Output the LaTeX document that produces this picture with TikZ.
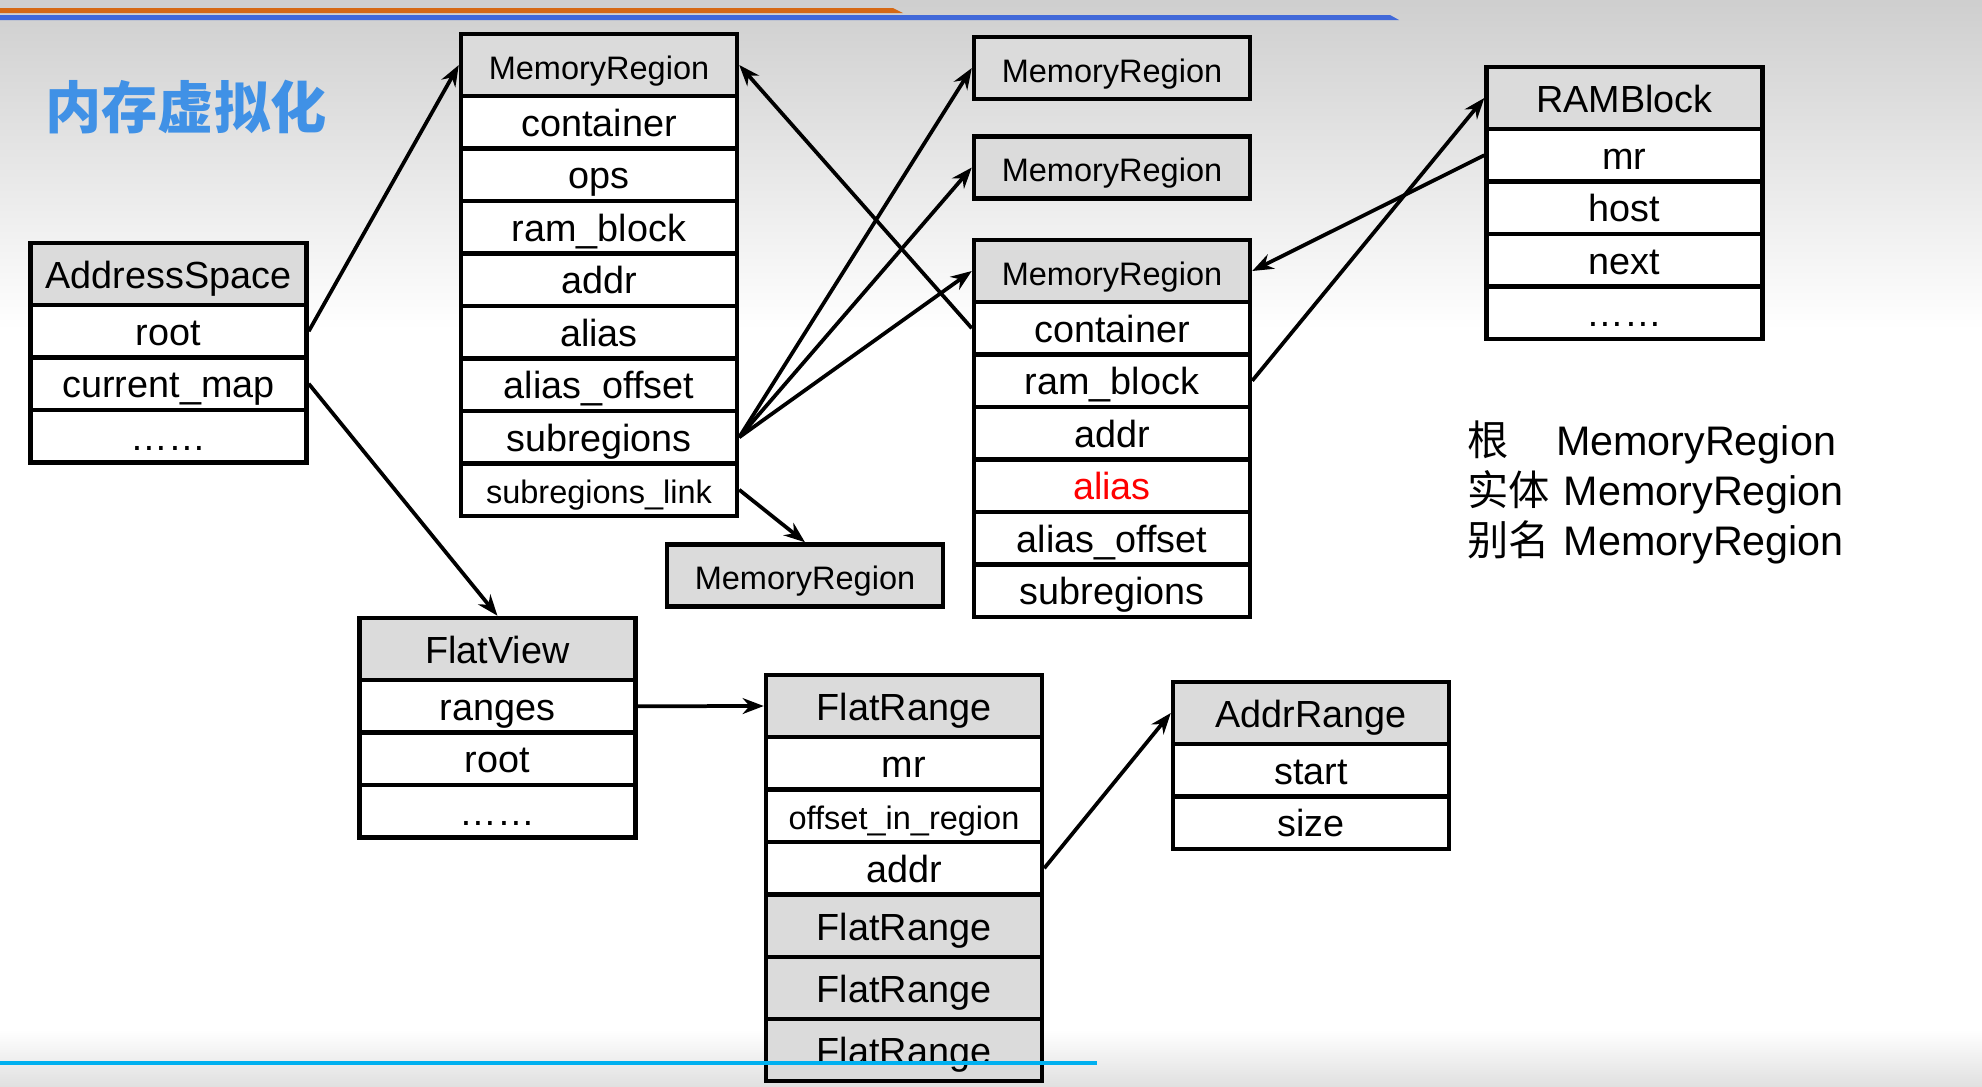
\documentclass[tikz,border=0pt]{standalone}
\usepackage{fontspec}
\setmainfont{Liberation Sans}
\newfontfamily\cjk{Noto Sans CJK SC}
\usetikzlibrary{arrows.meta}
\definecolor{titleblue}{RGB}{64,145,230}
\definecolor{barorange}{RGB}{214,105,20}
\definecolor{barblue}{RGB}{65,105,217}
\definecolor{linecyan}{RGB}{0,176,240}

\begin{document}
\begin{tikzpicture}[x=0.02cm, y=-0.02cm,
  every node/.style={font=\fontsize{21.5}{25}\selectfont, inner sep=0pt},
  hdr/.style={draw, line width=0.09cm, fill=black!14, minimum width=5.52cm, minimum height=1.24cm, text height=19pt, text depth=3pt},
  fld/.style={draw, line width=0.09cm, fill=white, minimum width=5.52cm, minimum height=1.05cm, text height=19pt, text depth=3pt},
  small/.style={font=\fontsize{18.5}{22}\selectfont},
  link/.style={-{Stealth[length=12pt, width=9pt]}, line width=0.075cm}]

  % Page and background
  \useasboundingbox (0,0) rectangle (1982,1086);
  \fill[white] (0,0) rectangle (1982,1086);
  \shade[top color=black!19, bottom color=white] (0,0) rectangle (1982,330);
  \shade[top color=white, bottom color=black!12] (0,1030) rectangle (1982,1086);

  % Bars at the top
  \fill[barorange] (0,8) -- (893,8) -- (903,13) -- (0,13) -- cycle;
  \fill[barblue] (0,15) -- (1390,15) -- (1399,20) -- (0,20) -- cycle;

  % Title
  \node[anchor=west, font=\cjk\bfseries\fontsize{32}{37}\selectfont, text=titleblue] (title) at (45,107) {内存虚拟化};

  % AddressSpace
  \node[hdr] (as-h) at (168.5,274) {AddressSpace};
  \node[fld] (as-1) at (168.5,331.25) {root};
  \node[fld] (as-2) at (168.5,383.75) {current\_map};
  \node[fld] (as-3) at (168.5,436.25) {……};

  % Root MemoryRegion
  \node[hdr, small] (mr1-h) at (599,65) {MemoryRegion};
  \node[fld] (mr1-1) at (599,122.25) {container};
  \node[fld] (mr1-2) at (599,174.75) {ops};
  \node[fld] (mr1-3) at (599,227.25) {ram\_block};
  \node[fld] (mr1-4) at (599,279.75) {addr};
  \node[fld] (mr1-5) at (599,332.25) {alias};
  \node[fld] (mr1-6) at (599,384.75) {alias\_offset};
  \node[fld] (mr1-7) at (599,437.25) {subregions};
  \node[fld, small] (mr1-8) at (599,489.75) {subregions\_link};

  % Subregions
  \node[hdr, small] (mr2) at (1112,68) {MemoryRegion};
  \node[hdr, small] (mr3) at (1112,167.5) {MemoryRegion};
  \node[hdr, small] (mr5) at (805,575.5) {MemoryRegion};

  % Entity MemoryRegion
  \node[hdr, small] (mr4-h) at (1112,271) {MemoryRegion};
  \node[fld] (mr4-1) at (1112,328.25) {container};
  \node[fld] (mr4-2) at (1112,380.75) {ram\_block};
  \node[fld] (mr4-3) at (1112,433.25) {addr};
  \node[fld, text=red] (mr4-4) at (1112,485.75) {alias};
  \node[fld] (mr4-5) at (1112,538.25) {alias\_offset};
  \node[fld] (mr4-6) at (1112,590.75) {subregions};

  % RAMBlock
  \node[hdr] (rb-h) at (1624.5,98) {RAMBlock};
  \node[fld] (rb-1) at (1624.5,155.25) {mr};
  \node[fld] (rb-2) at (1624.5,207.75) {host};
  \node[fld] (rb-3) at (1624.5,260.25) {next};
  \node[fld] (rb-4) at (1624.5,312.75) {……};

  % FlatView
  \node[hdr] (fv-h) at (497.5,649) {FlatView};
  \node[fld] (fv-1) at (497.5,706.25) {ranges};
  \node[fld] (fv-2) at (497.5,758.75) {root};
  \node[fld] (fv-3) at (497.5,811.25) {……};

  % FlatRange array
  \node[hdr] (fr-h) at (904,706) {FlatRange};
  \node[fld] (fr-1) at (904,763.25) {mr};
  \node[fld, small] (fr-2) at (904,815.75) {offset\_in\_region};
  \node[fld] (fr-3) at (904,868.25) {addr};
  \node[hdr] (fr2) at (904,926) {FlatRange};
  \node[hdr] (fr3) at (904,988) {FlatRange};
  \node[hdr] (fr4) at (904,1050) {FlatRange};

  % AddrRange
  \node[hdr] (ar-h) at (1311,713) {AddrRange};
  \node[fld] (ar-1) at (1311,770.25) {start};
  \node[fld] (ar-2) at (1311,822.75) {size};

  % Legend
  \node[anchor=base west, font=\fontsize{23.5}{28}\selectfont] (leg1) at (1467,455) {{\cjk 根}\hspace{27pt}MemoryRegion};
  \node[anchor=base west, font=\fontsize{23.5}{28}\selectfont] (leg2) at (1467,505) {{\cjk 实体}\hspace{8pt}MemoryRegion};
  \node[anchor=base west, font=\fontsize{23.5}{28}\selectfont] (leg3) at (1467,555) {{\cjk 别名}\hspace{8pt}MemoryRegion};

  % Pointers
  \draw[link] (as-1.east) -- (mr1-h.west);
  \draw[link] (as-2.east) -- (fv-h.north);
  \draw[link] (mr1-7.east) -- (mr2.west);
  \draw[link] (mr1-7.east) -- (mr3.west);
  \draw[link] (mr1-7.east) -- (mr4-h.west);
  \draw[link] (mr4-1.west) -- (mr1-h.east);
  \draw[link] (mr1-8.east) -- (mr5.north);
  \draw[link] (mr4-2.east) -- (rb-h.west);
  \draw[link] (rb-1.west) -- (mr4-h.east);
  \draw[link] (fv-1.east) -- (fr-h.west);
  \draw[link] (fr-3.east) -- (ar-h.west);

  % Line at the bottom
  \fill[linecyan] (0,1061) rectangle (1097,1064.5);
\end{tikzpicture}
\end{document}
